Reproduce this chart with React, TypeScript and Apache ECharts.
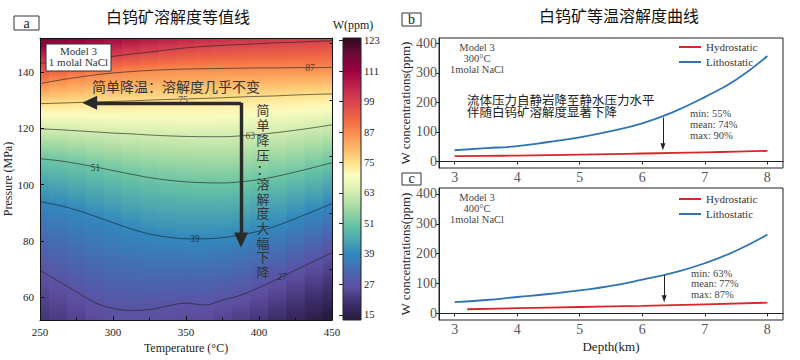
import React, { useEffect, useRef } from 'react';
import * as echarts from 'echarts';

// ---------- Panel a : iso-solubility lines (pressure, MPa) sampled at temperatures (°C)
const tempSamples = [250, 262.5, 275, 287.5, 300, 312.5, 325, 337.5, 350, 362.5, 375, 387.5, 400, 412.5, 425, 437.5, 450];
const isoLevels = [27, 39, 51, 63, 75, 87, 99];
const iso27P = [69.6, 65.8, 62, 58.2, 56.1, 55.4, 55.7, 57, 58, 57.3, 59.1, 60.8, 63.5, 66.5, 69.7, 72.8, 75.9];
const iso39P = [94, 92.7, 91, 88.8, 86.5, 84.3, 82.5, 81.4, 80.8, 80.8, 81.2, 82.2, 83.5, 85.5, 88, 90.6, 93.3];
const iso51P = [109.2, 108.5, 107.5, 106.3, 105, 103.7, 102.5, 101.6, 101, 100.7, 100.6, 101, 101.8, 103, 104.5, 106.1, 107.8];
const iso63P = [119.8, 119.5, 119.1, 118.7, 118.3, 118, 117.6, 117.3, 117.1, 117, 117, 117.3, 117.8, 118.5, 119.3, 120.2, 121.2];
const iso75P = [128.7, 128.9, 129.1, 129.3, 129.5, 129.7, 130, 130.2, 130.4, 130.6, 130.8, 131.1, 131.3, 131.5, 131.8, 132, 132.2];
const iso87P = [135.8, 137, 138, 138.9, 139.6, 140.1, 140.5, 140.8, 141, 141.1, 141.2, 141.3, 141.4, 141.4, 141.5, 141.5, 141.6];
const iso99P = [143, 143.7, 144.3, 145, 145.5, 146.3, 147, 147.8, 148.5, 149, 149.4, 149.7, 150, 150.3, 150.5, 150.8, 151];
const topEdgeW = [117, 115, 113, 111.5, 110, 108.5, 107, 106, 105, 104, 103.5, 103, 102.5, 102, 101.5, 101, 100.5];
const bottomEdgeW = [21, 22, 23.5, 25, 26, 26.5, 26.3, 25.5, 25, 25.2, 24, 22.5, 21, 19, 17, 15, 13];
const iso15T = [436, 450];
const iso15P = [52, 55];
const isoLabelLevels = [87, 75, 63, 51, 39, 27];
const isoLabelT = [435, 348, 394, 288, 356, 416];
const isoLabelP = [141.4, 130.1, 117.4, 105.9, 80.9, 67.1];
const pressureTicks = [60, 80, 100, 120, 140];
const pressureMinorTicks = [70, 90, 110, 130, 150];
const colorbarTicks = [15, 27, 39, 51, 63, 75, 87, 99, 111, 123];
const T_MIN = 250, T_MAX = 450, P_MIN = 52, P_MAX = 152, W_MIN = 13, W_MAX = 124;
// arrows (data coordinates)
const arrowACornerT = 387.7, arrowACornerP = 129, arrowALeftT = 284, arrowABottomP = 80.4;

// ---------- Panels b, c
const depthTicks = [3, 4, 5, 6, 7, 8];
const concTicks = [0, 100, 200, 300, 400];
const depthB = [3, 3.5, 4, 4.5, 5, 5.5, 6, 6.5, 7, 7.5, 8];
const lithoB = [38, 45, 52, 66, 82, 103, 129, 168, 218, 277, 357];
const hydroB = [18, 19, 20, 21.5, 23, 25, 27, 29, 31, 33.5, 36];
const depthC = [3, 3.5, 4, 4.5, 5, 5.5, 6, 6.5, 7, 7.5, 8];
const lithoC = [38, 45, 55, 65, 77, 92, 113, 137, 168, 210, 264];
const hydroDepthC = [3.2, 4, 5, 6, 7, 8];
const hydroC = [14, 17.5, 21.5, 25.5, 30.5, 36];
const arrowBDepth = 6.33, arrowBFrom = 149, arrowBTo = 50;
const arrowCDepth = 6.35, arrowCFrom = 128, arrowCTo = 49;

const cmapStops: [number, string][] = [
  [13, '#25193c'], [19, '#3b2c68'], [26, '#5e4fa2'], [32, '#4867b0'], [39, '#3288bd'],
  [50, '#66c2a5'], [58, '#abdda4'], [64, '#d9efb2'], [70, '#fdfdc0'], [75, '#fee08b'],
  [82, '#fdae61'], [91, '#f46d43'], [100, '#d53e4f'], [111, '#9e0142'], [118, '#6a0a38'], [124, '#2d0a1c'],
];

const serif = '"Liberation Serif", "Times New Roman", serif';
const cjk = '"Noto Sans CJK SC", "Noto Sans", sans-serif';

function hexRgb(h: string) {
  const n = parseInt(h.slice(1), 16);
  return [(n >> 16) & 255, (n >> 8) & 255, n & 255];
}
function cmap(v: number): string {
  const s = cmapStops;
  if (v <= s[0][0]) return s[0][1];
  if (v >= s[s.length - 1][0]) return s[s.length - 1][1];
  for (let k = 0; k < s.length - 1; k++) {
    const a = s[k][0], b = s[k + 1][0];
    if (v >= a && v <= b) {
      const f = (v - a) / (b - a);
      const A = hexRgb(s[k][1]), B = hexRgb(s[k + 1][1]);
      return `rgb(${Math.round(A[0] + (B[0] - A[0]) * f)},${Math.round(A[1] + (B[1] - A[1]) * f)},${Math.round(A[2] + (B[2] - A[2]) * f)})`;
    }
  }
  return s[0][1];
}

const isoP = [iso27P, iso39P, iso51P, iso63P, iso75P, iso87P, iso99P];

function txt(text: string, x: number, y: number, o: any = {}) {
  const align = o.align || 'center';
  const va = o.va || 'middle';
  return {
    type: 'text', x, y, z: 100, silent: true,
    style: {
      text, fill: o.fill || '#222', fontSize: o.size || 12, fontFamily: o.family || serif,
      fontWeight: o.weight || 'normal',
      textAlign: align, textVerticalAlign: va, align, verticalAlign: va,
      lineHeight: o.lineHeight,
    },
  };
}
function box(x: number, y: number, w: number, h: number) {
  return { type: 'rect', z: 99, silent: true, shape: { x, y, width: w, height: h }, style: { fill: '#fff', stroke: '#333', lineWidth: 1 } };
}

export default function App() {
  const ref = useRef<HTMLDivElement>(null);
  useEffect(() => {
    document.body.style.margin = '0';
    const chart = echarts.init(ref.current!, undefined, { renderer: 'svg' });

    const cbStops = cmapStops.map(([v, c]) => ({ offset: (W_MAX - v) / (W_MAX - W_MIN), color: c })).reverse();

    const frameLine = { show: true, lineStyle: { color: '#111', width: 1 } };
    const rightTick = { color: '#555', fontSize: 14, fontFamily: serif };
    const legendBase = {
      orient: 'vertical', itemWidth: 22, itemHeight: 2, itemGap: 4, padding: 0, icon: 'rect',
      data: ['Hydrostatic', 'Lithostatic'], selectedMode: false,
      textStyle: { color: '#333', fontSize: 11, fontFamily: serif, lineHeight: 11 },
    };

    const option: any = {
      animation: false,
      grid: [
        { left: 40, top: 38, width: 292, height: 282 },
        { left: 343, top: 38, width: 18, height: 282 },
        { left: 439, top: 38, width: 344, height: 130, show: true, borderColor: '#222', borderWidth: 1 },
        { left: 439, top: 188, width: 344, height: 132, show: true, borderColor: '#222', borderWidth: 1 },
      ],
      xAxis: [
        {
          gridIndex: 0, type: 'value', min: T_MIN, max: T_MAX, interval: 50, z: 10,
          axisLine: frameLine, axisTick: { inside: true, length: 4, lineStyle: { color: '#111' } },
          minorTick: { show: true, splitNumber: 2, length: 2.5, lineStyle: { color: '#111' } },
          splitLine: { show: false },
          axisLabel: { color: '#222', fontSize: 11, fontFamily: serif, margin: 6 },
          name: 'Temperature (°C)', nameLocation: 'middle', nameGap: 22,
          nameTextStyle: { color: '#222', fontSize: 12, fontFamily: serif },
        },
        {
          gridIndex: 0, type: 'value', position: 'top', min: T_MIN, max: T_MAX, z: 10,
          axisLine: frameLine, axisTick: { show: false }, axisLabel: { show: false }, splitLine: { show: false },
        },
        { gridIndex: 1, type: 'value', show: false, min: 0, max: 1 },
        {
          gridIndex: 2, type: 'value', min: 2.75, max: 8.25,
          axisLine: { show: true, lineStyle: { color: '#222' } },
          axisTick: { customValues: depthTicks, length: 3, lineStyle: { color: '#222' } },
          axisLabel: { customValues: depthTicks, margin: 2, ...rightTick },
          splitLine: { show: false },
        },
        {
          gridIndex: 3, type: 'value', min: 2.75, max: 8.25,
          axisLine: { show: true, lineStyle: { color: '#222' } },
          axisTick: { customValues: depthTicks, length: 3, lineStyle: { color: '#222' } },
          axisLabel: { customValues: depthTicks, margin: 2, ...rightTick },
          splitLine: { show: false },
          name: 'Depth(km)', nameLocation: 'middle', nameGap: 20,
          nameTextStyle: { color: '#222', fontSize: 13, fontFamily: serif },
        },
      ],
      yAxis: [
        {
          gridIndex: 0, type: 'value', min: P_MIN, max: P_MAX, z: 10,
          axisLine: frameLine,
          axisTick: { customValues: pressureTicks, inside: true, length: 4, lineStyle: { color: '#111' } },
          axisLabel: { customValues: pressureTicks, color: '#222', fontSize: 11, fontFamily: serif, margin: 6 },
          splitLine: { show: false },
          name: 'Pressure (MPa)', nameLocation: 'middle', nameGap: 22,
          nameTextStyle: { color: '#222', fontSize: 12, fontFamily: serif },
        },
        {
          gridIndex: 0, type: 'value', min: P_MIN, max: P_MAX, z: 10,
          axisLine: { show: false },
          axisTick: { customValues: pressureMinorTicks, inside: true, length: 2.5, lineStyle: { color: '#111' } },
          axisLabel: { show: false }, splitLine: { show: false },
        },
        {
          gridIndex: 0, type: 'value', position: 'right', min: P_MIN, max: P_MAX, z: 10,
          axisLine: frameLine, axisTick: { show: false }, axisLabel: { show: false }, splitLine: { show: false },
        },
        {
          gridIndex: 1, type: 'value', position: 'right', min: W_MIN, max: W_MAX, z: 10,
          axisLine: { show: false },
          axisTick: { customValues: colorbarTicks, inside: true, length: 4, lineStyle: { color: '#222' } },
          axisLabel: { customValues: colorbarTicks, color: '#222', fontSize: 10.5, fontFamily: serif, margin: 3 },
          splitLine: { show: false },
        },
        {
          gridIndex: 2, type: 'value', min: -22, max: 418,
          axisLine: { show: true, lineStyle: { color: '#222' } },
          axisTick: { customValues: concTicks, length: 3, lineStyle: { color: '#222' } },
          axisLabel: { customValues: concTicks, margin: 2, ...rightTick },
          splitLine: { show: false },
          name: 'W concentrations(ppm)', nameLocation: 'middle', nameGap: 26,
          nameTextStyle: { color: '#222', fontSize: 13, fontFamily: serif },
        },
        {
          gridIndex: 3, type: 'value', min: -22, max: 420,
          axisLine: { show: true, lineStyle: { color: '#222' } },
          axisTick: { customValues: concTicks, length: 3, lineStyle: { color: '#222' } },
          axisLabel: { customValues: concTicks, margin: 2, ...rightTick },
          splitLine: { show: false },
          name: 'W concentrations(ppm)', nameLocation: 'middle', nameGap: 26,
          nameTextStyle: { color: '#222', fontSize: 13, fontFamily: serif },
        },
      ],
      legend: [
        { ...legendBase, left: 679, top: 41.5 },
        { ...legendBase, left: 679, top: 193.5 },
      ],
      series: [
        {
          type: 'custom', xAxisIndex: 0, yAxisIndex: 0, z: 1, silent: true,
          data: tempSamples.map((t, i) => [t, (P_MIN + P_MAX) / 2, i]),
          encode: { x: 0, y: 1 },
          renderItem: (_p: any, api: any) => {
            const i = api.value(2) as number;
            const n = tempSamples.length;
            const t = tempSamples[i];
            const x0 = i > 0 ? (tempSamples[i - 1] + t) / 2 : t;
            const x1 = i < n - 1 ? (tempSamples[i + 1] + t) / 2 : t;
            const tl = api.coord([x0, P_MAX]);
            const br = api.coord([x1, P_MIN]);
            const h = br[1] - tl[1];
            const knots: number[][] = [[P_MIN, bottomEdgeW[i]]];
            isoLevels.forEach((lv, k) => knots.push([isoP[k][i], lv]));
            knots.push([P_MAX, topEdgeW[i]]);
            const stops: { offset: number; color: string }[] = [];
            const sub = 6;
            for (let k = 0; k < knots.length - 1; k++) {
              const [pa, va] = knots[k];
              const [pb, vb] = knots[k + 1];
              for (let s = 0; s < sub; s++) {
                const f = s / sub;
                const p = pa + (pb - pa) * f;
                const v = va + (vb - va) * f;
                const y = api.coord([t, p])[1];
                stops.push({ offset: Math.min(1, Math.max(0, (y - tl[1]) / h)), color: cmap(v) });
              }
            }
            const last = knots[knots.length - 1];
            stops.push({ offset: Math.min(1, Math.max(0, (api.coord([t, last[0]])[1] - tl[1]) / h)), color: cmap(last[1]) });
            stops.sort((a, b) => a.offset - b.offset);
            return {
              type: 'rect',
              shape: { x: tl[0], y: tl[1], width: br[0] - tl[0] + 0.8, height: h },
              style: { fill: new echarts.graphic.LinearGradient(0, 0, 0, 1, stops) },
            };
          },
        },
        ...isoLevels.map((lv, k) => ({
          type: 'line', name: 'iso' + lv, xAxisIndex: 0, yAxisIndex: 0, z: 3, silent: true,
          data: tempSamples.map((t, i) => [t, isoP[k][i]]),
          smooth: 0.4, symbol: 'none',
          lineStyle: { color: 'rgba(35,35,35,0.72)', width: 0.9 },
        })),
        {
          type: 'line', name: 'iso15', xAxisIndex: 0, yAxisIndex: 0, z: 3, silent: true,
          data: iso15T.map((t, i) => [t, iso15P[i]]),
          symbol: 'none', lineStyle: { color: 'rgba(35,35,35,0.72)', width: 0.9 },
          markLine: {
            silent: true, symbol: ['none', 'triangle'], symbolSize: [14, 15],
            label: { show: false },
            lineStyle: { color: '#2a2a2a', width: 3.4, type: 'solid' },
            data: [
              [{ coord: [arrowACornerT, arrowACornerP] }, { coord: [arrowALeftT, arrowACornerP] }],
              [{ coord: [arrowACornerT, arrowACornerP] }, { coord: [arrowACornerT, arrowABottomP] }],
            ],
          },
        },
        {
          type: 'scatter', xAxisIndex: 0, yAxisIndex: 0, z: 4, silent: true,
          symbolSize: 0.1,
          data: isoLabelT.map((t, i) => [t, isoLabelP[i], isoLabelLevels[i]]),
          label: {
            show: true, position: 'inside', formatter: (p: any) => String(p.value[2]),
            color: '#222', fontSize: 9.5, fontFamily: serif,
          },
        },
        // panel b
        {
          type: 'line', name: 'Hydrostatic', xAxisIndex: 3, yAxisIndex: 4, symbol: 'none', smooth: true,
          color: '#d9262b', lineStyle: { width: 1.8, color: '#d9262b' },
          data: depthB.map((d, i) => [d, hydroB[i]]),
          markLine: {
            silent: true, symbol: ['none', 'triangle'], symbolSize: [5, 7], label: { show: false },
            lineStyle: { color: '#222', width: 1, type: 'solid' },
            data: [[{ coord: [arrowBDepth, arrowBFrom] }, { coord: [arrowBDepth, arrowBTo] }]],
          },
        },
        {
          type: 'line', name: 'Lithostatic', xAxisIndex: 3, yAxisIndex: 4, symbol: 'none', smooth: true,
          color: '#2e74b5', lineStyle: { width: 1.8, color: '#2e74b5' },
          data: depthB.map((d, i) => [d, lithoB[i]]),
        },
        // panel c
        {
          type: 'line', name: 'Hydrostatic', xAxisIndex: 4, yAxisIndex: 5, symbol: 'none', smooth: true,
          color: '#d9262b', lineStyle: { width: 1.8, color: '#d9262b' },
          data: hydroDepthC.map((d, i) => [d, hydroC[i]]),
          markLine: {
            silent: true, symbol: ['none', 'triangle'], symbolSize: [5, 7], label: { show: false },
            lineStyle: { color: '#222', width: 1, type: 'solid' },
            data: [[{ coord: [arrowCDepth, arrowCFrom] }, { coord: [arrowCDepth, arrowCTo] }]],
          },
        },
        {
          type: 'line', name: 'Lithostatic', xAxisIndex: 4, yAxisIndex: 5, symbol: 'none', smooth: true,
          color: '#2e74b5', lineStyle: { width: 1.8, color: '#2e74b5' },
          data: depthC.map((d, i) => [d, lithoC[i]]),
        },
      ],
      graphic: [
        // colorbar
        {
          type: 'rect', z: 50, silent: true, shape: { x: 343, y: 38, width: 18, height: 282 },
          style: { fill: new echarts.graphic.LinearGradient(0, 0, 0, 1, cbStops), stroke: '#222', lineWidth: 1 },
        },
        txt('W(ppm)', 353, 25, { size: 12 }),
        // titles
        txt('白钨矿溶解度等值线', 178, 16, { size: 16, family: cjk, fill: '#111' }),
        txt('白钨矿等温溶解度曲线', 619, 15, { size: 16, family: cjk, fill: '#111' }),
        // panel letters
        box(14, 16, 25, 14), txt('a', 26.5, 23, { size: 14 }),
        box(402, 13, 19, 13), txt('b', 411.5, 19.5, { size: 14 }),
        box(402, 173, 19, 12), txt('c', 411.5, 178.5, { size: 14 }),
        // panel a model box
        box(46, 44, 65, 27),
        txt('Model 3', 78.5, 51, { size: 11, fill: '#333' }),
        txt('1 molal NaCl', 78.5, 62, { size: 11, fill: '#333' }),
        // panel a annotations
        txt('简单降温：溶解度几乎不变', 176, 85.5, { size: 14, family: cjk, fill: '#333' }),
        txt('简\n单\n降\n压\n：\n溶\n解\n度\n大\n幅\n下\n降', 263, 102.6, { size: 13, family: cjk, fill: '#333', va: 'top', lineHeight: 14.7 }),
        // panel b texts
        txt('Model 3', 477, 47, { size: 10.5, fill: '#444' }),
        txt('300°C', 477, 58, { size: 10.5, fill: '#444' }),
        txt('1molal NaCl', 477, 69, { size: 10.5, fill: '#444' }),
        txt('流体压力自静岩降至静水压力水平\n伴随白钨矿溶解度显著下降', 467, 93, { size: 12.5, family: cjk, fill: '#222', align: 'left', va: 'top', lineHeight: 12 }),
        txt('min: 55%', 690, 113, { size: 10.5, fill: '#444', align: 'left' }),
        txt('mean: 74%', 690, 124, { size: 10.5, fill: '#444', align: 'left' }),
        txt('max: 90%', 690, 135, { size: 10.5, fill: '#444', align: 'left' }),
        // panel c texts
        txt('Model 3', 477, 197, { size: 10.5, fill: '#444' }),
        txt('400°C', 477, 208, { size: 10.5, fill: '#444' }),
        txt('1molal NaCl', 477, 219, { size: 10.5, fill: '#444' }),
        txt('min: 63%', 691, 273, { size: 10.5, fill: '#444', align: 'left' }),
        txt('mean: 77%', 691, 283.5, { size: 10.5, fill: '#444', align: 'left' }),
        txt('max: 87%', 691, 294, { size: 10.5, fill: '#444', align: 'left' }),
      ],
    };
    chart.setOption(option);
    return () => chart.dispose();
  }, []);
  return <div ref={ref} style={{ width: 800, height: 360 }} />;
}
